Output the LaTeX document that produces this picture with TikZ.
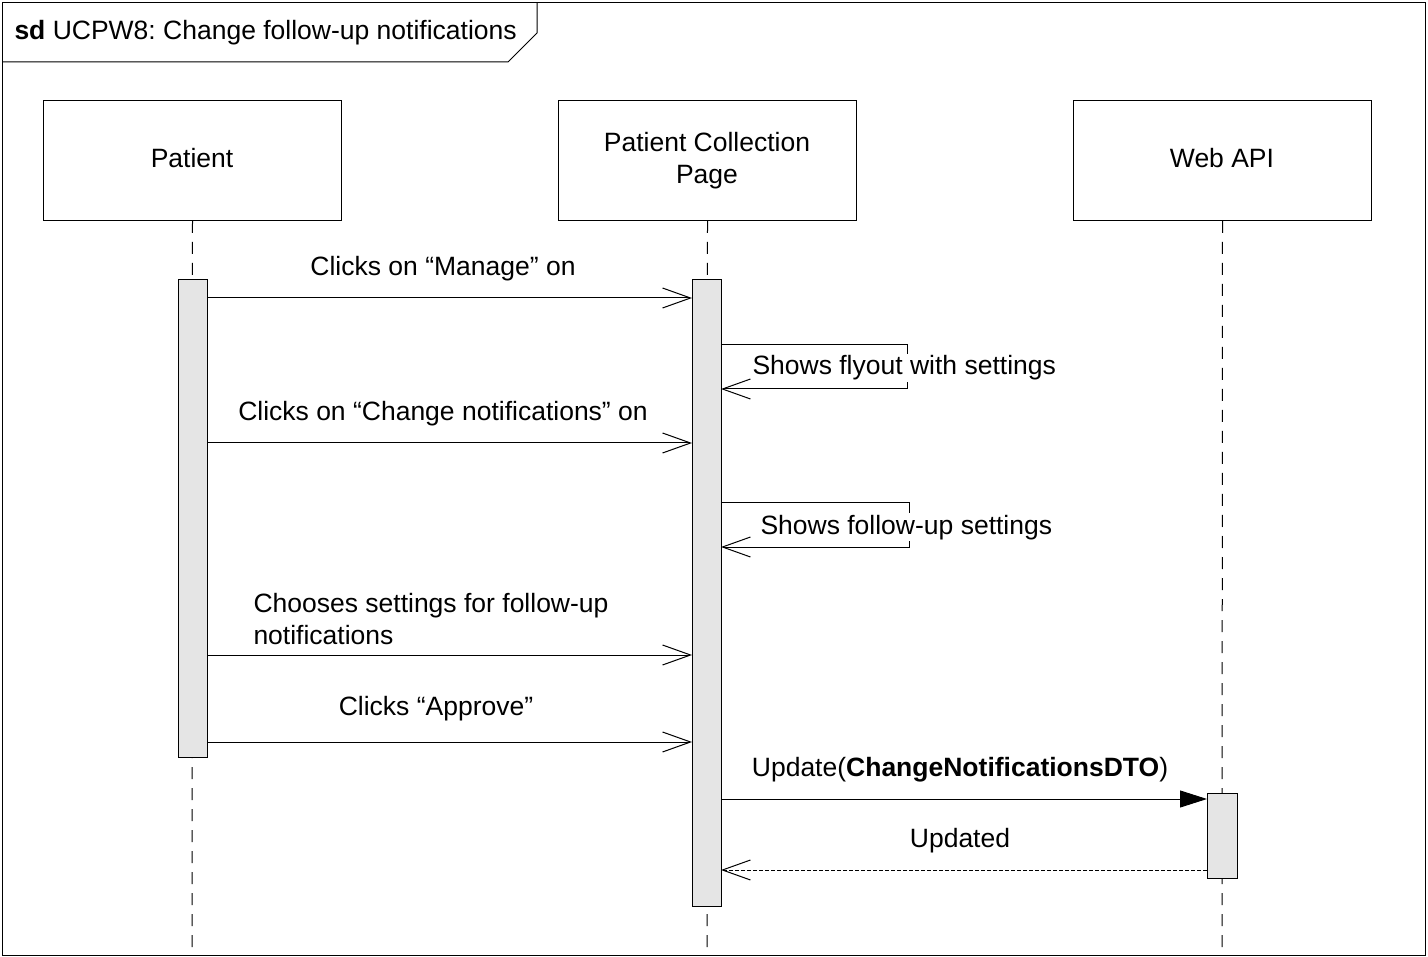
\documentclass[tikz,border=0pt]{standalone}
\usepackage{fontspec}
\setmainfont{Liberation Sans}
\usetikzlibrary{arrows.meta}
\frenchspacing
\begin{document}
\begin{tikzpicture}[x=1pt,y=-1pt,line width=1pt,
  every node/.style={font=\fontsize{26.5}{32}\selectfont,inner sep=0pt},
  lbox/.style={draw,minimum width=298pt,minimum height=120pt,anchor=north west,align=center},
  actbar/.style={draw,fill=black!10},
  lifeline/.style={dash pattern=on 12pt off 9pt},
  msg/.style={-{Straight Barb[open,length=28pt,width=20pt,line width=1pt]}},
  callmsg/.style={-{Triangle[length=27pt,width=17pt]}},
  retmsg/.style={dash pattern=on 4pt off 2pt,-{Straight Barb[open,length=28pt,width=20pt,line width=1pt]}},
  lbl/.style={anchor=base}]
\useasboundingbox (0,0) rectangle (1428,957);
% frame
\draw (2,3) rectangle (1425,955);
\draw (2,62) -- (508,62) -- (537,33) -- (537,3);
\node[lbl,anchor=base west] (title) at (14,40) {\textbf{sd} UCPW8: Change follow-up notifications};
% lifeline boxes
\node[lbox] (pat) at (43,100) {};
\node[lbl] at (192,168) {Patient};
\node[lbox] (pcp) at (558,100) {};
\node[lbl] at (707,152) {Patient Collection};
\node[lbl] at (707,184) {Page};
\node[lbox] (api) at (1073,100) {};
\node[lbl] at (1222,168) {Web API};
% lifelines
\coordinate (patend) at (192,955);
\coordinate (pcpend) at (707,955);
\coordinate (apiend) at (1222,955);
\draw[lifeline] (pat.south) -- (patend);
\draw[lifeline] (pcp.south) -- (pcpend);
\draw[lifeline] (api.south) -- (apiend);
% activation bars
\draw[actbar] (178,280) rectangle (207,757);
\draw[actbar] (692,280) rectangle (721,906);
\draw[actbar] (1207,793) rectangle (1237,878);
% messages
\coordinate (a1) at (207,298); \coordinate (b1) at (692,298);
\draw[msg] (a1) -- (b1);
\node[lbl] (m1) at (443,276) {Clicks on “Manage” on};
\coordinate (s1a) at (721,345); \coordinate (s1b) at (907,345);
\coordinate (s1c) at (907,389); \coordinate (s1d) at (721,389);
\draw[msg] (s1a) -- (s1b) -- (s1c) -- (s1d);
\node[lbl,anchor=base west,fill=white,inner ysep=2pt] (m2) at (752,375) {Shows flyout with settings};
\coordinate (a3) at (207,443); \coordinate (b3) at (692,443);
\draw[msg] (a3) -- (b3);
\node[lbl] (m3) at (443,421) {Clicks on “Change notifications” on};
\coordinate (s2a) at (721,503); \coordinate (s2b) at (909,503);
\coordinate (s2c) at (909,547); \coordinate (s2d) at (721,547);
\draw[msg] (s2a) -- (s2b) -- (s2c) -- (s2d);
\node[lbl,anchor=base west,fill=white,inner ysep=2pt] (m4) at (760,534) {Shows follow-up settings};
\coordinate (a5) at (207,655); \coordinate (b5) at (692,655);
\draw[msg] (a5) -- (b5);
\node[lbl,anchor=base west] (m5a) at (253,612) {Chooses settings for follow-up};
\node[lbl,anchor=base west] (m5b) at (253,644) {notifications};
\coordinate (a6) at (207,742); \coordinate (b6) at (692,742);
\draw[msg] (a6) -- (b6);
\node[lbl] (m6) at (436,715) {Clicks “Approve”};
\coordinate (a7) at (721,799); \coordinate (b7) at (1207,799);
\draw[callmsg] (a7) -- (b7);
\node[lbl] (m7) at (960,776) {Update(\textbf{ChangeNotificationsDTO})};
\coordinate (a8) at (1207,870); \coordinate (b8) at (721,870);
\draw[retmsg] (a8) -- (b8);
\node[lbl] (m8) at (960,847) {Updated};
\end{tikzpicture}
\end{document}
